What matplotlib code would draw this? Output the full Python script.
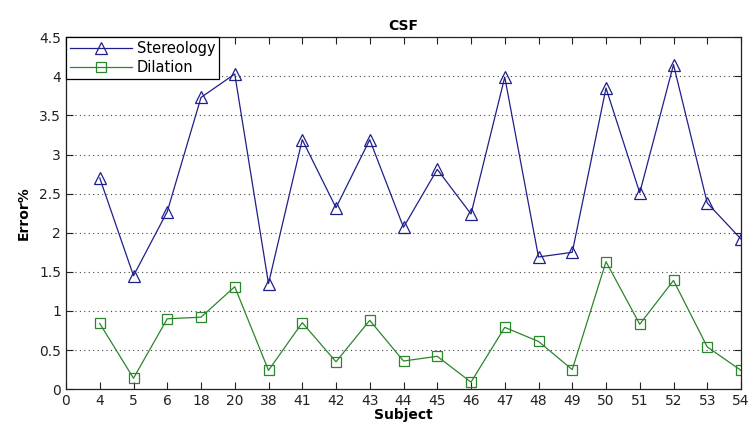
import matplotlib
matplotlib.use("Agg")
import matplotlib.pyplot as plt

subjects = ["4", "5", "6", "18", "20", "38", "41", "42", "43", "44", "45", "46",
            "47", "48", "49", "50", "51", "52", "53", "54"]
stereology = [2.70, 1.45, 2.27, 3.73, 4.03, 1.35, 3.19, 2.32, 3.19, 2.07, 2.81, 2.24,
              3.99, 1.69, 1.75, 3.85, 2.51, 4.15, 2.38, 1.92]
dilation = [0.84, 0.14, 0.90, 0.92, 1.31, 0.24, 0.85, 0.35, 0.88, 0.36, 0.42, 0.09,
            0.79, 0.61, 0.25, 1.63, 0.83, 1.39, 0.54, 0.24]

fig = plt.figure(figsize=(7.5, 4.23), dpi=100)
ax = fig.add_axes([0.088, 0.080, 0.900, 0.832])

x = list(range(1, len(subjects) + 1))
ax.plot(x, stereology, color="#1f1f8a", lw=0.9, marker="^", ms=8,
        mfc="none", mec="#1f1f8a", mew=0.9, label="Stereology")
ax.plot(x, dilation, color="#2a862a", lw=0.9, marker="s", ms=7,
        mfc="none", mec="#2a862a", mew=0.9, label="Dilation")

ax.set_xlim(0, 20)
ax.set_ylim(0, 4.5)
ax.set_xticks([0] + x)
ax.set_xticklabels(["0"] + subjects)
ax.set_yticks([0, 0.5, 1, 1.5, 2, 2.5, 3, 3.5, 4, 4.5])
ax.set_yticklabels(["0", "0.5", "1", "1.5", "2", "2.5", "3", "3.5", "4", "4.5"])
ax.yaxis.grid(True, linestyle=(0, (1, 3)), color="#444444", lw=0.8)
ax.tick_params(direction="in", top=True, right=True, length=5, labelsize=10,
               colors="#222222")
for s in ax.spines.values():
    s.set_color("#222222")
    s.set_linewidth(0.9)

ax.set_title("CSF", fontsize=10, fontweight="bold", pad=5)
ax.set_xlabel("Subject", fontsize=10, fontweight="bold", labelpad=0)
ax.set_ylabel("Error%", fontsize=10, fontweight="bold", labelpad=6)

leg = ax.legend(loc="upper left", bbox_to_anchor=(0, 1), fancybox=False,
                edgecolor="black", framealpha=1, fontsize=10.5, borderaxespad=0,
                handlelength=4.3, borderpad=0.25, labelspacing=0.3,
                handletextpad=0.3)
leg.get_frame().set_linewidth(0.9)

fig.savefig("out.png", dpi=100)
